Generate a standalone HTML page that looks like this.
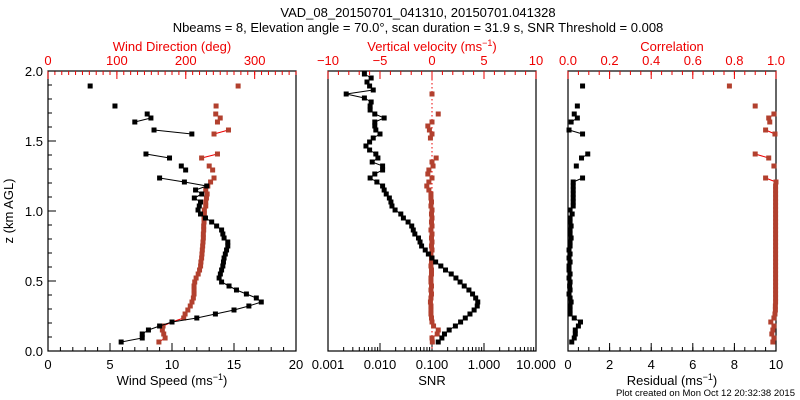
<!DOCTYPE html>
<html><head><meta charset="utf-8"><style>
body{margin:0;background:#fff}
svg{display:block;font-family:"Liberation Sans",sans-serif}
</style></head><body>
<svg id="c" width="800" height="400" viewBox="0 0 800 400">
<text x="418" y="17" font-size="13" text-anchor="middle">VAD_08_20150701_041310, 20150701.041328</text>
<text x="418" y="32" font-size="13" text-anchor="middle">Nbeams = 8, Elevation angle = 70.0°, scan duration = 31.9 s, SNR Threshold = 0.008</text>
<text transform="translate(13,211) rotate(-90)" font-size="13" text-anchor="middle">z (km AGL)</text>
<text x="172" y="51" font-size="13" fill="#e00" text-anchor="middle">Wind Direction (deg)</text>
<text x="432" y="51" font-size="13" fill="#e00" text-anchor="middle">Vertical velocity (ms<tspan dy="-5" font-size="9">−1</tspan><tspan dy="5">)</tspan></text>
<text x="672" y="51" font-size="13" fill="#e00" text-anchor="middle">Correlation</text>
<text x="172" y="385" font-size="13" text-anchor="middle">Wind Speed (ms<tspan dy="-5" font-size="9">−1</tspan><tspan dy="5">)</tspan></text>
<text x="432" y="385" font-size="13" text-anchor="middle">SNR</text>
<text x="672" y="385" font-size="13" text-anchor="middle">Residual (ms<tspan dy="-5" font-size="9">−1</tspan><tspan dy="5">)</tspan></text>
<text x="795" y="396" font-size="9.5" text-anchor="end">Plot created on Mon Oct 12 20:32:38 2015</text>
</svg>
<script>
// height grid index k -> km
const gridIndex = Array.from({length:68},(_,k)=>k);
const N=null;
const windSpeed=[5.9,7.6,7.6,8.1,9.0,10.0,12.0,13.5,15.0,16.2,17.2,16.8,16.0,15.2,14.6,14.0,13.8,13.9,14.0,14.1,14.15,14.2,14.3,14.4,14.5,14.5,14.2,14.1,14.0,13.6,13.2,12.7,12.3,12.1,12.2,12.3,11.8,12.4,11.9,12.8,11.0,9.0,N,11.1,10.75,N,9.8,7.9,N,N,N,N,11.6,8.55,N,7.0,8.3,8.0,N,5.4,N,N,N,N,3.4,N,N,N];
const windDir=[161,170,168,166,167,180,197,199,203,206.5,209,211,212,212,212,213,215,218,220,221.5,222,223,223.5,224,224.5,225,225.5,225.5,226,226,226.5,226.5,227,227,229,229,230,231,229,232,236,241,N,239,234,N,223,246,N,N,N,N,241,262,N,246,250,243.5,N,244,N,N,N,N,276,N,N,N];
const snrLog=[-0.88,-0.81,-0.76,-0.67,-0.55,-0.45,-0.36,-0.27,-0.19,-0.13,-0.12,-0.16,-0.22,-0.29,-0.38,-0.46,-0.54,-0.63,-0.74,-0.83,-0.93,-1.0,-1.07,-1.13,-1.2,-1.23,-1.26,-1.33,-1.36,-1.39,-1.46,-1.55,-1.6,-1.71,-1.77,-1.79,-1.82,-1.88,-1.92,-1.95,-2.06,-2.19,-2.1,-1.95,-1.95,-2.15,-2.04,-2.08,-2.2,-2.27,-2.2,-2.13,-2.0,-2.08,-2.1,-2.1,-1.92,-2.1,-2.19,-2.19,-2.17,-2.3,-2.65,-2.13,-2.2,-2.25,-2.17,-2.3];
const vertVel=[0.03,0,0.5,0.6,0.15,0,-0.05,-0.1,-0.1,-0.1,-0.15,-0.1,-0.05,-0.1,-0.05,-0.1,-0.1,-0.05,-0.05,-0.1,-0.05,-0.05,-0.1,0,-0.05,0,-0.05,0,-0.1,0,-0.05,0,-0.05,0,-0.1,-0.05,-0.1,-0.1,-0.3,-0.5,-0.3,0,-0.4,-0.3,0.1,0,0.4,N,N,N,N,-0.15,0,-0.25,-0.4,0,N,0.6,N,N,N,N,0,N,N,N,N,N];
const residual=[0.18,0.3,0.35,0.35,0.5,0.6,0.3,0.1,0.1,0.1,0.15,0.1,0.05,0.1,0.08,0.1,0.05,0.1,0.05,0.05,0.1,0.05,0.1,0.05,0.1,0.1,0.15,0.1,0.1,0.15,0.1,0.1,0.2,0.1,0.25,0.25,0.25,0.25,0.25,0.25,0.25,0.7,N,N,0.4,N,0.65,0.95,N,N,N,N,0.7,0.05,N,0.15,0.45,0.3,N,0.45,N,N,N,N,0.7,N,N,N];
const correlation=[0.985,0.99,0.98,0.985,0.99,0.975,0.99,0.995,0.997,0.997,0.998,0.998,0.998,0.998,0.998,0.998,0.998,0.998,0.998,0.998,0.998,0.998,0.998,0.998,0.998,0.998,0.998,0.998,0.998,0.998,0.998,0.998,0.998,0.998,0.998,0.998,0.998,0.998,0.998,0.998,1.0,0.95,N,N,0.99,N,0.965,0.90,N,N,N,N,0.995,0.95,N,0.97,0.965,0.99,N,0.90,N,N,N,N,0.776,N,N,N];
const yTicks=["0.0","0.5","1.0","1.5","2.0"];
const spdTicks=["0","5","10","15","20"];
const dirTicks=["0","100","200","300"];
const wTicks=["−10","−5","0","5","10"];
const snrTicks=["0.001","0.010","0.100","1.000","10.000"];
const resTicks=["0","2","4","6","8","10"];
const corTicks=["0.0","0.2","0.4","0.6","0.8","1.0"];

const svg=document.getElementById('c');
const NS='http://www.w3.org/2000/svg';
function mk(t,a,p){const e=document.createElementNS(NS,t);for(const k in a)e.setAttribute(k,a[k]);(p||svg).appendChild(e);return e;}
const TOP=71,BOT=351;
const hKm=k=>(9+4*k)/140;
const yS=z=>BOT-z*140;
const P=[{x0:48,x1:296},{x0:328,x1:536},{x0:568,x1:776}];
function lin(p,a,b){return v=>p.x0+(v-a)/(b-a)*(p.x1-p.x0);}
const xSpd=lin(P[0],0,20),xDir=lin(P[0],0,360),xSnr=lin(P[1],-3,1),xW=lin(P[1],-10,10),xRes=lin(P[2],0,10),xCor=lin(P[2],0,1);

// frames
P.forEach((p,i)=>{const r=mk('rect',{x:p.x0,y:TOP,width:p.x1-p.x0,height:BOT-TOP,fill:'none',stroke:'#000','stroke-width':1.2});

});

function ticksX(sc,vals,minor,y,dir,col,labels,ly,name){
  const g=mk('g',{stroke:col,'stroke-width':1});
  
  
  minor.forEach(v=>mk('line',{x1:sc(v),x2:sc(v),y1:y,y2:y+dir*4},g));
  vals.forEach((v,i)=>{mk('line',{x1:sc(v),x2:sc(v),y1:y,y2:y+dir*8},g);
    const t=mk('text',{x:sc(v),y:ly,'font-size':13,'text-anchor':'middle',fill:col,stroke:'none'},g);t.textContent=labels[i];});
}
const rng=(a,b,s)=>{const r=[];for(let v=a;v<=b+1e-9;v+=s)r.push(+v.toFixed(6));return r;};
ticksX(xSpd,spdTicks.map(Number),rng(0,20,1),BOT,-1,'#000',spdTicks,369,'wind-speed-axis');
ticksX(xDir,dirTicks.map(Number),rng(0,360,10),TOP,1,'#e00',dirTicks,65,'wind-direction-axis');
ticksX(xW,[-10,-5,0,5,10],rng(-10,10,1),TOP,1,'#e00',wTicks,65,'vertical-velocity-axis');
const snrMinor=[];for(let d=-3;d<1;d++)for(let m=2;m<=9;m++)snrMinor.push(d+Math.log10(m));
ticksX(xSnr,[-3,-2,-1,0,1],snrMinor,BOT,-1,'#000',snrTicks,369,'snr-axis');
ticksX(xRes,resTicks.map(Number),rng(0,10,0.5),BOT,-1,'#000',resTicks,369,'residual-axis');
ticksX(xCor,corTicks.map(Number),rng(0,1,0.05),TOP,1,'#e00',corTicks,65,'correlation-axis');
// y axis
const gy=mk('g',{stroke:'#000'});


rng(0,2,0.1).forEach(z=>mk('line',{x1:48,x2:52,y1:yS(z),y2:yS(z)},gy));
yTicks.forEach(s=>{const z=+s;mk('line',{x1:48,x2:56,y1:yS(z),y2:yS(z)},gy);
 const t=mk('text',{x:43,y:yS(z)+5,'font-size':13,'text-anchor':'end',stroke:'none'},gy);t.textContent=s;});
// zero line panel 2
const zl=mk('line',{x1:xW(0),x2:xW(0),y1:TOP,y2:BOT,stroke:'#e00','stroke-dasharray':'1.5,2.5'});



function series(vals,sc,lineCol,mCol,name){
  const g=mk('g',{});
  
  
  for(let k=0;k<vals.length-1;k++){
    if(vals[k]!=null&&vals[k+1]!=null)mk('line',{x1:sc(vals[k]),y1:yS(hKm(gridIndex[k])),x2:sc(vals[k+1]),y2:yS(hKm(gridIndex[k+1])),stroke:lineCol,'stroke-width':1},g);
  }
  vals.forEach((v,k)=>{if(v==null)return;
    const m=mk('rect',{x:sc(v)-2.5,y:yS(hKm(gridIndex[k]))-2.5,width:5,height:5,fill:mCol},g);
    
    });
}
const BR='#b2402e';
series(windDir,xDir,'#e00',BR,'wind-direction-series');
series(windSpeed,xSpd,'#000','#000','wind-speed-series');
series(vertVel,xW,'#e00',BR,'vertical-velocity-series');
series(snrLog,xSnr,'#000','#000','snr-series');
series(correlation,xCor,'#e00',BR,'correlation-series');
series(residual,xRes,'#000','#000','residual-series');
</script>
</body></html>
